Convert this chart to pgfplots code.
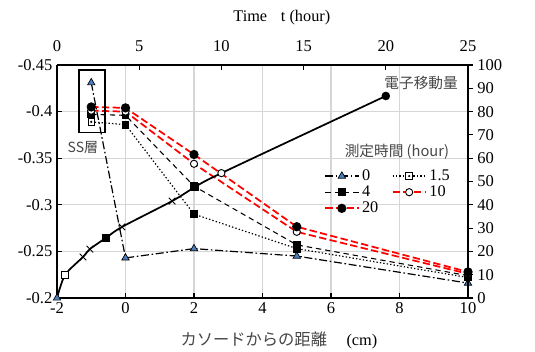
\documentclass[border=0pt]{standalone}
\usepackage{pgfplots}
\pgfplotsset{compat=1.18}
\usepackage{fontspec}
\setmainfont{Liberation Serif}
\newfontfamily\jp{Noto Sans CJK JP}
\definecolor{tri}{RGB}{74,126,187}
\definecolor{gridc}{RGB}{214,214,214}
\definecolor{jpgray}{RGB}{70,70,70}
\pgfdeclareplotmark{sqdot}{%
  \pgfpathrectangle{\pgfpoint{-\pgfplotmarksize}{-\pgfplotmarksize}}{\pgfpoint{2\pgfplotmarksize}{2\pgfplotmarksize}}%
  \pgfusepathqfillstroke
  \pgfsetfillcolor{black}%
  \pgfpathcircle{\pgfpointorigin}{0.35\pgfplotmarksize}%
  \pgfusepathqfill
}
\pgfplotsset{
  every axis/.append style={
    width=308.25pt, height=174.75pt, scale only axis,
    at={(0pt,0pt)}, anchor=south west,
    clip=false,
    axis line style={line width=1.1pt},
    tick style={black, line width=0.8pt},
    major tick length=3.5pt,
    ticklabel style={font=\fontsize{12.4}{14}\selectfont},
    /pgf/number format/assume math mode=true,
  },
}
\begin{document}
\begin{tikzpicture}
\useasboundingbox (-42.75pt,-39.75pt) rectangle (358.5pt,223.5pt);
\begin{axis}[
  xmin=-2, xmax=10, ymin=-0.45, ymax=-0.2, y dir=reverse,
  xtick={-2,0,2,4,6,8,10},
  xticklabels={-2,0,2,4,6,8,10},
  ytick={-0.45,-0.4,-0.35,-0.3,-0.25,-0.2},
  yticklabels={-0.45,-0.4,-0.35,-0.3,-0.25,-0.2},
  axis x line*=bottom, axis y line*=left,
  tick align=inside,
  grid=major, grid style={gridc, line width=1pt},
  legend columns=2,
  legend cell align=left,
  legend style={draw=none, fill=none, at={(0.640,0.575)}, anchor=north west,
    font=\fontsize{12.2}{13}\selectfont, row sep=-1.5pt,
    /tikz/every even column/.append style={column sep=8pt}},
  legend image code/.code={\draw[mark repeat=2,mark phase=2,#1] plot coordinates {(0pt,0pt) (12.5pt,0pt) (25pt,0pt)};},
]
\addplot[black, line width=0.9pt, dash pattern=on 6pt off 2pt on 1.2pt off 2pt,
  mark=triangle*, mark size=3.2pt, mark options={solid, fill=tri, draw=black, line width=0.5pt}]
  coordinates {(-1,-0.431) (0,-0.243) (2,-0.253) (5,-0.245) (10,-0.216)};
\addlegendentry{0}
\addplot[black, line width=0.9pt, dash pattern=on 1pt off 1.6pt,
  mark=sqdot, mark size=2.5pt, mark options={solid, fill=white, draw=black, line width=0.6pt}]
  coordinates {(-1,-0.389) (0,-0.386) (2,-0.290) (5,-0.253) (10,-0.222)};
\addlegendentry{1.5}
\addplot[black, line width=0.8pt, dash pattern=on 4pt off 3pt,
  mark=square*, mark size=2.5pt, mark options={solid, fill=black, draw=black}]
  coordinates {(-1,-0.397) (0,-0.396) (2,-0.320) (5,-0.257) (10,-0.224)};
\addlegendentry{4}
\addplot[red, line width=1.3pt, dash pattern=on 5.5pt off 2.5pt,
  mark=*, mark size=2.7pt, mark options={solid, fill=white, draw=black, line width=0.7pt}]
  coordinates {(-1,-0.401) (0,-0.400) (2,-0.344) (5,-0.271) (10,-0.226)};
\addlegendentry{10}
\addplot[red, line width=1.3pt, dash pattern=on 5.5pt off 2.5pt,
  mark=*, mark size=2.8pt, mark options={solid, fill=black, draw=black}]
  coordinates {(-1,-0.405) (0,-0.404) (2,-0.354) (5,-0.2765) (10,-0.228)};
\addlegendentry{20}
\end{axis}
\begin{axis}[
  xmin=0, xmax=25, ymin=0, ymax=100,
  axis x line*=top, axis y line*=right,
  xtick={0,5,10,15,20,25}, ytick={0,10,...,100},
  tick align=outside,
  xtick style={yshift=-3.5pt},
  xticklabel style={yshift=3pt},
]
\addplot[black, line width=1.3pt, smooth, tension=0.45]
  coordinates {(0,0) (0.49,9.9) (1.58,17.6) (2.0,21.0) (2.98,25.8) (3.95,30.5) (7.0,41.6) (8.39,47.6) (10,53.6) (20,86.7)};
\addplot[only marks, mark=triangle*, mark size=3.2pt, mark options={fill=tri, draw=black, line width=0.5pt}] coordinates {(0,0)};
\addplot[only marks, mark=square*, mark size=2.5pt, mark options={fill=white, draw=black, line width=0.6pt}] coordinates {(0.49,9.9)};
\addplot[only marks, mark=x, mark size=3.5pt, mark options={black, line width=0.7pt}] coordinates {(1.58,17.6) (2.0,21.0) (3.95,30.5) (7.0,41.6)};
\addplot[only marks, mark=square*, mark size=2.5pt, mark options={fill=black, draw=black}] coordinates {(2.98,25.8) (8.39,47.6)};
\addplot[only marks, mark=*, mark size=2.7pt, mark options={fill=white, draw=black, line width=0.7pt}] coordinates {(10,53.6)};
\addplot[only marks, mark=*, mark size=3pt, mark options={fill=black, draw=black}] coordinates {(20,86.7)};
\draw[black, line width=0.9pt] (rel axis cs:0.0535,0.9785) rectangle (rel axis cs:0.1168,0.712);
\node[font=\jp\fontsize{10.5}{12}\selectfont, text=jpgray] at (rel axis cs:0.063,0.644) {SS層};
\node[font=\jp\fontsize{11}{12}\selectfont, text=jpgray] at (rel axis cs:0.886,0.923) {電子移動量};
\node[font=\jp\fontsize{11}{12}\selectfont, text=jpgray] at (rel axis cs:0.827,0.627) {測定時間 (hour)};
\node[font=\fontsize{12.2}{14}\selectfont] at (rel axis cs:0.547,1.2017) {Time\hspace{0.6em} t (hour)};
\node[font=\fontsize{12.2}{14}\selectfont] at (rel axis cs:0.540,-0.180) {{\jp\color{jpgray}カソードからの距離}\hspace{1.2em}(cm)};
\end{axis}
\end{tikzpicture}
\end{document}
